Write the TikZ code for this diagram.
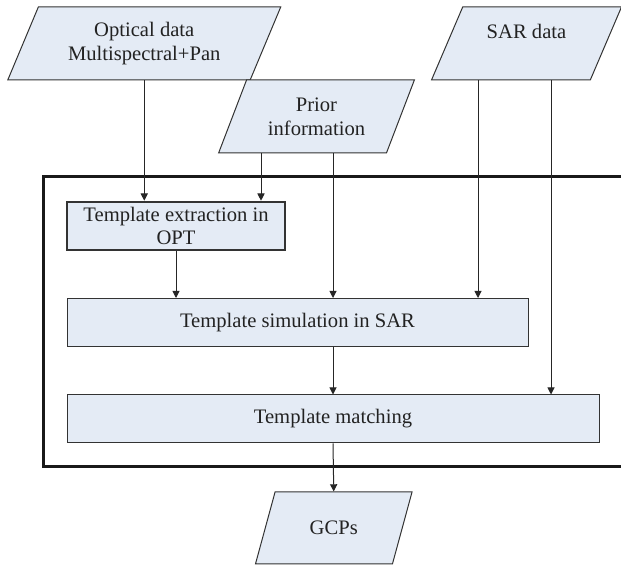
\documentclass[tikz,border=0pt]{standalone}
\usepackage{fontspec}
\setmainfont{Liberation Serif}
\usetikzlibrary{arrows.meta, positioning, shapes.geometric, calc}
\definecolor{cfill}{HTML}{E4EBF5}
\definecolor{cline}{HTML}{333333}
\definecolor{ctext}{HTML}{222222}
\tikzset{
  every picture/.style={x=0.5pt, y=-0.5pt, font=\fontsize{10.3}{11.8}\selectfont, line width=0.5pt},
  box/.style={draw=cline, fill=cfill, align=center, inner sep=2pt, text=ctext, minimum height=24pt},
  io/.style={draw=cline, fill=cfill, align=center, text=ctext, trapezium, trapezium left angle=64,
             trapezium right angle=116, trapezium stretches=true, inner sep=1pt},
  arrow/.style={-{Triangle[length=3.6pt, width=3.6pt]}, draw=black!85, line width=0.5pt},
  frame/.style={draw=black!90, line width=1.5pt},
}
\begin{document}
\begin{tikzpicture}
  \useasboundingbox (0,0) rectangle (621,565);
  % inputs
  \node[io, minimum width=137pt, minimum height=36.5pt] (opt) at (144.25,43.5) {Optical data\\Multispectral+Pan};
  \node[io, minimum width=98pt, minimum height=36.5pt] (prior) at (316.5,116.5) {Prior\\information};
  \node[io, minimum width=95.5pt, minimum height=36.5pt] (sar) at (526.5,43.5) {SAR data\\\phantom{x}};
  % processing chain
  \draw[frame] (621,177) -- (43,177) -- (43,467) -- (621,467);
  \node[box, line width=1.3pt, minimum width=109pt] (ext) at (176,226) {Template extraction in\\OPT};
  \node[box, minimum width=230.5pt] (sim) at (297.5,322.5) {Template simulation in SAR};
  \node[box, minimum width=266pt] (match) at (333,419) {Template matching};
  \node[io, minimum width=78.5pt, minimum height=36pt] (gcps) at (333.75,528) {GCPs};
  % tap points on the input shapes
  \coordinate (prior-a) at ($(prior.south)+(-55.5,0)$);
  \coordinate (prior-b) at ($(prior.south)+(16.5,0)$);
  \coordinate (sar-a) at ($(sar.south)+(-48.5,0)$);
  \coordinate (sar-b) at ($(sar.south)+(24.5,0)$);
  % connectors
  \draw[arrow] (opt.south) -- (opt.south |- ext.north);
  \draw[arrow] (prior-a) -- (prior-a |- ext.north);
  \draw[arrow] (ext.south) -- (ext.south |- sim.north);
  \draw[arrow] (prior-b) -- (prior-b |- sim.north);
  \draw[arrow] (sar-a) -- (sar-a |- sim.north);
  \draw[arrow] (sar-b) -- (sar-b |- match.north);
  \draw[arrow] (sim.south -| match.north) -- (match.north);
  \draw[arrow] (match.south) -- (gcps.north);
\end{tikzpicture}
\end{document}
